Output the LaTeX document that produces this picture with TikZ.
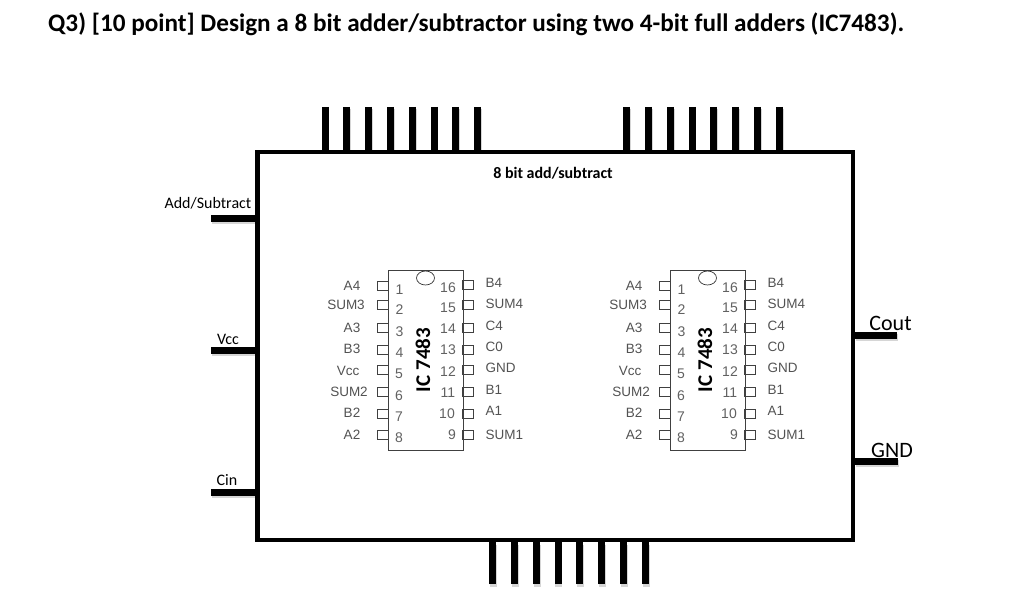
\documentclass[tikz,border=0pt]{standalone}
\usepackage{fontspec}
\usetikzlibrary{shapes.geometric}
\setmainfont{Carlito}
\newfontfamily\icfont{Liberation Sans}
\begin{document}
\begin{tikzpicture}[x=1pt,y=-1pt,
  wire/.style={line width=7pt,line cap=butt,
    preaction={draw=black!16,line width=7pt,transform canvas={shift={(0.8pt,-2.5pt)}}}},
  mainbox/.style={draw,line width=4.5pt,minimum width=595.5pt,minimum height=388pt,inner sep=0pt,anchor=north west},
  icbody/.style={draw=black!75,line width=0.8pt,minimum width=74.5pt,minimum height=180pt,inner sep=0pt,anchor=north west},
  notch/.style={draw=black!80,line width=0.7pt,ellipse,minimum width=18pt,minimum height=14pt,inner sep=0pt,fill=white},
  padbox/.style={draw=black!75,line width=0.7pt,minimum width=11pt,minimum height=9pt,inner sep=0pt},
  pinlab/.style={font=\icfont\fontsize{13.5}{15}\selectfont,text=black!68,inner sep=0pt},
  pinnum/.style={font=\icfont\fontsize{14}{16}\selectfont,text=black!62,inner sep=0pt},
  iclabel/.style={font=\bfseries\fontsize{21}{24}\selectfont,rotate=90,inner sep=0pt},
  sidelab/.style={font=\fontsize{16}{18}\selectfont,inner sep=0pt},
  biglab/.style={font=\fontsize{22}{24}\selectfont,inner sep=0pt},
  pics/chip/.style={code={
    \node[icbody] (body) at (0,0) {};
    \node[notch] (dot) at (37.5,8) {};
    \node[iclabel] (name) at (35,90) {IC 7483};
    \foreach \n/\py/\nx/\ny/\lx/\ly/\t in {1/16/11.5/20/-36/16/A4,2/35/11.5/40/-42/35/SUM3,3/58/11.5/62/-36/58/A3,4/80/11.5/83/-36/79/B3,5/100/11/104/-40/101/Vcc,6/122/11/126/-39/122/SUM2,7/144/11/147/-36/143/B2,8/165/11/168/-36/165/A2}{
      \node[padbox] (lp\n) at (-5.2,\py) {};
      \node[pinnum] (ln\n) at (\nx,\ny) {\n};
      \node[pinlab] (ll\n) at (\lx,\ly) {\t};
    }
    \foreach \n/\py/\nx/\ny/\ly/\t in {16/15/60/18/13/B4,15/35/60/38/34/SUM4,14/58/60/59/56/C4,13/80/60/80/77/C0,12/100/60/102/98/GND,11/122/60/123/120/B1,10/144/59/144/141/A1,9/165/64/165/165/SUM1}{
      \node[padbox] (rp\n) at (79.7,\py) {};
      \node[pinnum] (rn\n) at (\nx,\ny) {\n};
      \node[pinlab,anchor=west] (rl\n) at (97.5,\ly) {\t};
    }
  }}
]
\useasboundingbox (0,0) rectangle (1024,615);
\node[inner sep=0pt,anchor=west,font=\bfseries\fontsize{25.2}{28}\selectfont] (title) at (48,24) {Q3) [10 point] Design a 8 bit adder/subtractor using two 4-bit full adders (IC7483).};
\node[mainbox] (box) at (255.25,149.75) {};
% top pins
\foreach \i/\x in {1/325,2/346.8,3/368.6,4/390.4,5/412.2,6/434,7/455.8,8/477.6}{
  \coordinate (ta\i) at (\x,107);
  \draw[wire] (ta\i) -- (ta\i |- box.north);
}
\foreach \i/\x in {1/626.5,2/648.4,3/670.2,4/692,5/713.8,6/735.6,7/757.4,8/779.2}{
  \coordinate (tb\i) at (\x,107);
  \draw[wire] (tb\i) -- (tb\i |- box.north);
}
\foreach \i/\x in {1/492.5,2/514.4,3/536.2,4/558,5/579.8,6/601.6,7/623.4,8/645.2}{
  \coordinate (bt\i) at (\x,584);
  \draw[wire] (bt\i) -- (bt\i |- box.south);
}
% side pins
\foreach \n/\y in {as/218,vcc/350,cin/492}{
  \coordinate (\n) at (211,\y);
  \draw[wire] (\n) -- (\n -| box.west);
}
\coordinate (cout) at (897,335);
\draw[wire] (cout) -- (cout -| box.east);
\coordinate (gnd) at (898,461);
\draw[wire] (gnd) -- (gnd -| box.east);
% redraw outline over the pin feet
\node[mainbox] (outline) at (255.25,149.75) {};
\node[inner sep=0pt,font=\bfseries\fontsize{16}{18}\selectfont] (boxname) at (553,173) {8 bit add/subtract};
\node[sidelab,anchor=east] (aslab) at (251.5,203) {Add/Subtract};
\node[sidelab] (vcclab) at (228,339) {Vcc};
\node[sidelab] (cinlab) at (227,480) {Cin};
\node[biglab] (coutlab) at (890.5,323) {Cout};
\node[biglab] (gndlab) at (892,450) {GND};
\pic (u1) at (388,270) {chip};
\pic (u2) at (670,270) {chip};
\end{tikzpicture}
\end{document}
